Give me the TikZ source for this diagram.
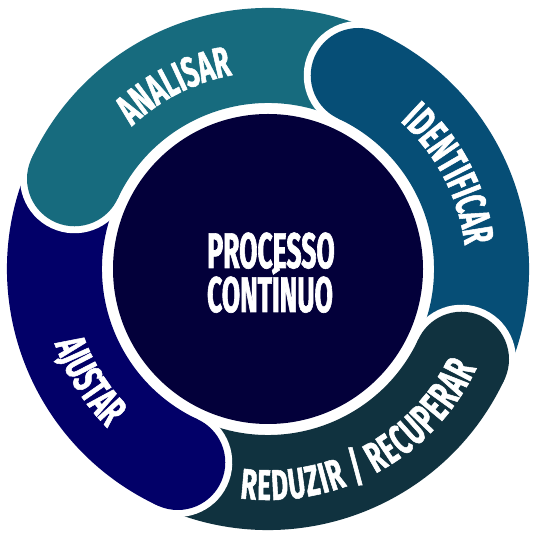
\documentclass[tikz,border=0pt]{standalone}
\usepackage{fontspec}
\newfontfamily\ringfont[FakeStretch=0.6,FakeBold=1.2]{Fira Sans}
\newfontfamily\centerfont[FakeStretch=0.53,FakeBold=1.2]{Fira Sans}
\usetikzlibrary{decorations.text}
\definecolor{cAna}{HTML}{176B7E}
\definecolor{cIde}{HTML}{064E76}
\definecolor{cRed}{HTML}{10323F}
\definecolor{cAju}{HTML}{020068}
\definecolor{cCen}{HTML}{03003A}
\tikzset{
  ringtext/.style={decorate,decoration={text along path,text color=white,text align=center,
    text={|\ringfont\bfseries\fontsize{43}{43}\selectfont|#1}}},
  ringfit/.style={decorate,decoration={text along path,text color=white,text align=fit to path,
    text={|\ringfont\bfseries\fontsize{43}{43}\selectfont|#1}}},
  centertext/.style={text=white,anchor=base,inner sep=0pt,font=\centerfont\bfseries\fontsize{50}{50}\selectfont}
}
\begin{document}
\begin{tikzpicture}[x=1pt,y=1pt]
\useasboundingbox (0,0) rectangle (540,540);
\fill[white] (0,0) rectangle (540,540);
\coordinate (C) at (268,271);
\def\Ro{261}\def\Ri{166}\def\Rm{213.5}\def\W{47.5}\def\Wh{54.5}
\begin{scope}[shift={(C)}]
  % bodies
  \fill[cAna] (65:\Ro) arc[start angle=65,end angle=155,radius=\Ro] -- (155:\Ri) arc[start angle=155,end angle=65,radius=\Ri] -- cycle;
  \fill[cIde] (-25:\Ro) arc[start angle=-25,end angle=65,radius=\Ro] -- (65:\Ri) arc[start angle=65,end angle=-25,radius=\Ri] -- cycle;
  \fill[cRed] (-115:\Ro) arc[start angle=-115,end angle=-25,radius=\Ro] -- (-25:\Ri) arc[start angle=-25,end angle=-115,radius=\Ri] -- cycle;
  \fill[cAju] (155:\Ro) arc[start angle=155,end angle=245,radius=\Ro] -- (245:\Ri) arc[start angle=245,end angle=155,radius=\Ri] -- cycle;
  % heads: white halo then colour disc
  \foreach \h/\c in {155/cAna,65/cIde,-25/cRed,245/cAju}{
    \fill[white] (\h:\Rm) ++(\h:\Wh) arc[start angle=\h,end angle=\h+180,radius=\Wh] -- cycle;
    \fill[\c] (\h:\Rm) circle[radius=\W];
  }
  % centre disc
  \fill[cCen] (0,0) circle[radius=155];
  % ring labels
  \path[ringtext=ANALISAR] (160:197) arc[start angle=160,end angle=74,radius=197];
  \path[ringtext=IDENTIFICAR] (72.5:198) arc[start angle=72.5,end angle=-17.5,radius=198];
  \path[ringtext=AJUSTAR] (167:226) arc[start angle=167,end angle=257,radius=226];
  \path[ringfit={REDUZIR / RECUPERAR}] (-97:231) arc[start angle=-97,end angle=-25.5,radius=231];
\end{scope}
\node[centertext] (l1) at (271,272) {PROCESSO};
\node[centertext] (l2) at (270,228) {CONTÍNUO};
\end{tikzpicture}
\end{document}
